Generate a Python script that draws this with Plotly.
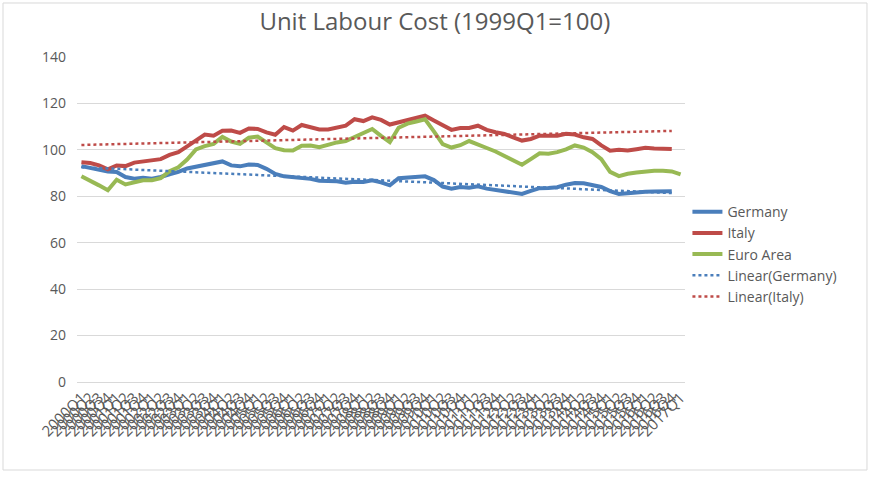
import numpy as np
import plotly.graph_objects as go

quarters = [f"{y}Q{q}" for y in range(2000, 2018) for q in range(1, 5)][:69]

germany = [93.0, 92.3, 91.4, 90.7, 90.5, 88.3, 87.6, 88.0, 87.6, 88.3,
           89.5, 90.5, 92.0, 92.8, 93.3, 94.5, 95.0, 93.3, 92.9, 93.7,
           93.5, 91.8, 89.6, 88.6, 88.3, 88.0, 87.5, 86.7, 86.6, 86.5,
           85.8, 86.3, 86.2, 86.9, 86.0, 84.7, 87.8, 88.1, 88.5, 88.6,
           87.0, 84.2, 83.3, 84.0, 83.7, 84.3, 83.3, 82.7, 82.3, 81.8,
           81.0, 82.3, 83.5, 83.6, 83.9, 85.0, 85.7, 85.6, 85.0, 84.0,
           82.2, 81.0, 81.3, 81.8, 82.0, 82.1, 82.2, 82.2]

italy = [94.7, 94.3, 93.3, 91.6, 93.3, 93.0, 94.5, 95.0, 95.5, 96.0,
         97.8, 99.0, 101.5, 104.0, 106.6, 106.1, 108.2, 108.3, 107.3, 109.2,
         109.0, 107.5, 106.5, 109.8, 108.3, 110.7, 109.7, 108.8, 108.8, 109.8,
         110.4, 113.2, 112.4, 114.0, 112.9, 110.9, 111.9, 112.9, 114.0, 114.7,
         112.6, 110.4, 108.6, 109.4, 109.4, 110.4, 108.6, 107.6, 106.9, 105.4,
         104.0, 104.7, 106.1, 106.1, 106.1, 106.9, 106.6, 105.4, 104.7, 101.9,
         99.6, 100.0, 99.7, 100.3, 100.9, 100.6, 100.4, 100.4]

euro_area = [88.6, 86.8, 84.7, 82.6, 87.1, 85.1, 86.1, 86.9, 86.9, 87.8,
             90.8, 92.5, 95.8, 100.2, 101.6, 102.6, 105.6, 103.6, 102.6, 105.2,
             105.7, 103.0, 100.7, 99.8, 99.7, 101.8, 101.9, 101.1, 102.3, 103.2,
             103.8, 105.5, 107.0, 109.0, 106.0, 103.3, 109.5, 111.3, 112.2, 113.2,
             108.0, 102.5, 101.0, 102.0, 103.8, 102.5, 100.8, 99.3, 97.5, 95.5,
             93.6, 96.0, 98.5, 98.3, 99.0, 100.2, 101.9, 101.0, 99.0, 96.0,
             90.5, 88.7, 89.7, 90.2, 90.8, 91.0, 91.0, 90.7, 89.4]

def linear_trend(vals):
    idx = np.arange(len(vals))
    slope, intercept = np.polyfit(idx, vals, 1)
    return list(slope * idx + intercept)

BLUE = "#4A7EBB"
RED = "#BE4B48"
GREEN = "#98B954"
GRAY = "#595959"
FONT = "Open Sans"

fig = go.Figure()
fig.add_trace(go.Scatter(x=quarters[:len(germany)], y=germany, name="Germany",
                         mode="lines", line=dict(color=BLUE, width=4)))
fig.add_trace(go.Scatter(x=quarters[:len(italy)], y=italy, name="Italy",
                         mode="lines", line=dict(color=RED, width=4)))
fig.add_trace(go.Scatter(x=quarters[:len(euro_area)], y=euro_area, name="Euro Area",
                         mode="lines", line=dict(color=GREEN, width=4)))
fig.add_trace(go.Scatter(x=quarters[:len(germany)], y=linear_trend(germany),
                         name="Linear(Germany)", mode="lines",
                         line=dict(color=BLUE, width=2.5, dash="dot")))
fig.add_trace(go.Scatter(x=quarters[:len(italy)], y=linear_trend(italy),
                         name="Linear(Italy)", mode="lines",
                         line=dict(color=RED, width=2.5, dash="dot")))

fig.update_layout(
    width=875, height=489,
    margin=dict(l=77, r=190, t=57, b=107),
    paper_bgcolor="white", plot_bgcolor="white",
    font=dict(family=FONT, color=GRAY),
    title=dict(text="Unit Labour Cost (1999Q1=100)", x=0.497, xanchor="center",
               y=0.955, yanchor="middle", font=dict(size=24, color=GRAY, family=FONT)),
    showlegend=True,
    legend=dict(x=1.004, xanchor="left", y=0.572, yanchor="top",
                font=dict(size=14, color=GRAY, family=FONT),
                bgcolor="rgba(0,0,0,0)", itemwidth=30),
    xaxis=dict(type="category", categoryorder="array", categoryarray=quarters,
               range=[-0.5, len(quarters) - 0.5],
               tickmode="array", tickvals=quarters, ticktext=quarters,
               tickangle=-45, tickfont=dict(size=15, color=GRAY),
               showgrid=False, showline=True, linecolor="#D9D9D9", linewidth=1,
               ticks="", zeroline=False),
    yaxis=dict(range=[0, 140], tickvals=[0, 20, 40, 60, 80, 100, 120, 140],
               showgrid=True, gridcolor="#D9D9D9", gridwidth=1,
               showline=False, zeroline=False, ticks="",
               tickfont=dict(size=14, color=GRAY), ticklabelstandoff=10),
    shapes=[dict(type="rect", xref="paper", yref="paper",
                 x0=-0.1217, x1=1.2993, y0=-0.2708, y1=1.1662,
                 line=dict(color="#D9D9D9", width=1), fillcolor="rgba(0,0,0,0)",
                 layer="below")],
)

fig.write_html("out.html")
